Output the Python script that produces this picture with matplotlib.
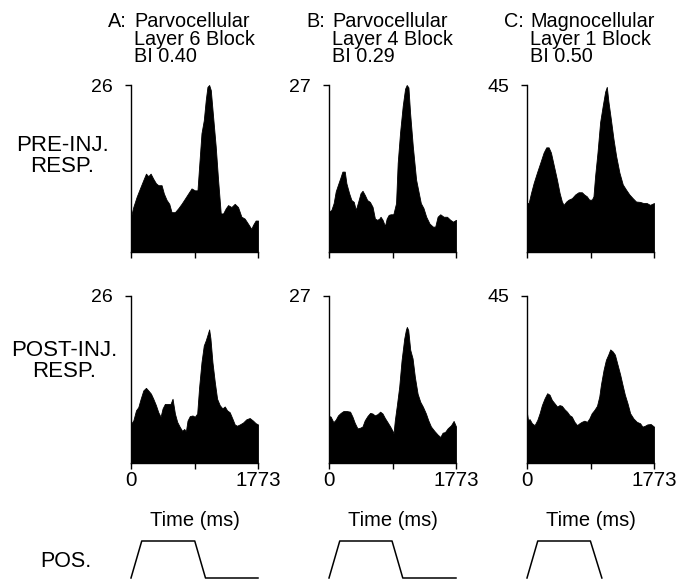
import matplotlib
matplotlib.use('Agg')
import matplotlib.pyplot as plt

plt.rcParams['font.family'] = ['Liberation Sans', 'DejaVu Sans']

# ---------------- data ----------------
col_letters = ['A:', 'B:', 'C:']
col_titles = [['Parvocellular', 'Layer 6 Block', 'BI 0.40'],
              ['Parvocellular', 'Layer 4 Block', 'BI 0.29'],
              ['Magnocellular', 'Layer 1 Block', 'BI 0.50']]
y_max = [26, 27, 45]
t_max = 1773
x_tick_labels = ['0', '', '1773']
time_label = 'Time (ms)'
row_labels = [['PRE-INJ.', 'RESP.'], ['POST-INJ.', 'RESP.']]
pos_label = 'POS.'

# PRE-injection responses (spikes/s vs time ms)
pre_a_t = [0, 32, 79, 125, 172, 209, 241, 274, 311, 348, 381, 427, 459, 497, 534, 566, 613, 659,
           705, 752, 798, 845, 891, 928, 951, 984, 1016, 1044, 1067, 1091, 1114, 1146, 1183, 1216,
           1253, 1286, 1323, 1355, 1402, 1448, 1494, 1541, 1587, 1634, 1680, 1703, 1740, 1773]
pre_a_v = [5.5, 7.0, 8.6, 9.9, 11.2, 12.2, 11.8, 12.2, 11.4, 10.7, 10.4, 10.4, 9.1, 8.1, 7.5, 6.2,
           6.2, 6.8, 7.5, 8.3, 9.1, 9.9, 9.6, 9.6, 13.3, 18.5, 20.5, 23.7, 25.7, 26.0, 25.2, 21.1,
           16.4, 11.2, 6.0, 6.0, 6.8, 7.3, 7.0, 7.5, 7.0, 5.5, 5.2, 4.4, 3.6, 4.2, 4.9, 4.9]

pre_b_t = [0, 33, 65, 94, 126, 159, 187, 220, 243, 281, 313, 346, 374, 407, 440, 468, 501, 533,
           571, 608, 641, 674, 702, 720, 748, 781, 805, 833, 861, 898, 936, 959, 992, 1029, 1062,
           1085, 1109, 1132, 1170, 1216, 1249, 1282, 1319, 1357, 1403, 1450, 1483, 1516, 1553,
           1600, 1647, 1693, 1731, 1773]
pre_b_v = [6.5, 6.8, 7.9, 9.8, 10.9, 12.0, 13.0, 13.0, 11.1, 9.5, 8.4, 8.1, 6.8, 8.1, 9.5, 9.9,
           9.2, 8.4, 8.1, 7.3, 5.4, 5.2, 5.4, 5.7, 5.2, 4.2, 5.4, 6.0, 6.1, 6.1, 7.9, 14.4, 19.3,
           23.6, 26.4, 27.0, 26.6, 22.5, 17.1, 11.7, 9.8, 7.9, 7.1, 5.7, 4.6, 4.1, 4.1, 5.7, 6.1,
           5.7, 5.7, 5.2, 4.9, 5.2]

pre_c_t = [0, 23, 56, 93, 139, 186, 232, 269, 302, 334, 371, 418, 455, 487, 511, 548, 580, 627,
           673, 719, 766, 798, 835, 868, 905, 928, 951, 984, 1021, 1058, 1091, 1114, 1137, 1170,
           1207, 1244, 1290, 1337, 1383, 1429, 1476, 1522, 1578, 1624, 1671, 1717, 1773]
pre_c_v = [13.2, 13.2, 15.9, 18.6, 21.4, 24.1, 26.8, 28.2, 28.2, 26.8, 23.6, 19.5, 15.9, 13.6,
           12.7, 13.6, 14.1, 14.5, 15.5, 16.1, 16.1, 15.5, 15.0, 14.1, 14.1, 15.0, 20.5, 26.8,
           35.0, 39.5, 43.2, 44.5, 40.5, 35.9, 30.5, 25.9, 21.4, 18.2, 16.8, 15.5, 14.5, 13.6,
           13.5, 13.2, 13.2, 12.7, 13.2]

# POST-injection responses
post_a_t = [0, 32, 70, 102, 135, 172, 209, 241, 278, 311, 348, 381, 413, 441, 473, 520, 552, 580,
            613, 645, 682, 715, 743, 766, 789, 821, 859, 891, 924, 951, 984, 1016, 1044, 1072,
            1091, 1109, 1137, 1170, 1202, 1239, 1276, 1309, 1341, 1378, 1416, 1448, 1480, 1518,
            1564, 1610, 1657, 1703, 1740, 1773]
post_a_v = [6.1, 6.6, 8.2, 8.7, 10.0, 11.3, 11.7, 11.3, 10.8, 10.0, 9.0, 7.9, 7.2, 8.5, 9.2, 9.2,
            9.2, 10.0, 7.7, 6.4, 5.6, 5.0, 5.3, 4.9, 6.6, 7.3, 7.4, 7.2, 7.7, 11.8, 15.7, 18.3,
            19.1, 20.1, 20.8, 19.4, 15.7, 12.6, 10.0, 9.0, 8.5, 8.8, 8.2, 7.9, 6.9, 6.0, 5.8, 6.0,
            6.3, 6.8, 7.0, 6.6, 6.2, 6.0]

post_b_t = [0, 23, 61, 93, 126, 163, 201, 247, 294, 327, 359, 397, 434, 467, 499, 537, 574, 607,
            639, 677, 714, 747, 779, 817, 854, 882, 901, 919, 947, 980, 1013, 1050, 1073, 1087,
            1106, 1134, 1167, 1199, 1237, 1274, 1311, 1353, 1386, 1423, 1470, 1516, 1554, 1586,
            1619, 1656, 1703, 1740, 1773]
post_b_v = [7.6, 7.5, 6.6, 7.0, 7.7, 8.1, 8.4, 8.4, 8.3, 7.5, 6.5, 5.6, 5.7, 5.9, 6.9, 7.6, 8.1,
            8.0, 7.7, 7.9, 8.3, 8.0, 7.3, 6.6, 5.9, 5.3, 4.8, 6.9, 9.3, 12.3, 16.6, 20.1, 21.5,
            22.0, 21.5, 18.3, 16.9, 13.9, 11.2, 9.9, 9.1, 8.0, 6.9, 5.9, 5.2, 4.6, 4.2, 4.9, 5.0,
            5.6, 6.1, 6.8, 5.9]

post_c_t = [0, 14, 37, 69, 106, 144, 176, 208, 245, 282, 315, 347, 384, 421, 454, 486, 523, 560,
            593, 625, 662, 699, 731, 764, 801, 838, 870, 903, 940, 977, 1009, 1032, 1069, 1102,
            1134, 1162, 1194, 1227, 1264, 1301, 1333, 1366, 1403, 1440, 1486, 1532, 1579, 1611,
            1643, 1680, 1727, 1773]
post_c_v = [13.4, 11.6, 11.8, 10.7, 10.2, 11.6, 13.4, 15.6, 17.4, 18.8, 18.4, 17.0, 16.1, 15.2,
            15.6, 15.4, 14.5, 13.8, 12.9, 12.5, 11.1, 10.2, 10.7, 11.1, 11.4, 11.1, 12.0, 13.4,
            14.3, 15.4, 17.9, 21.1, 25.1, 27.8, 29.2, 30.6, 30.1, 29.2, 26.5, 23.8, 21.1, 18.4,
            16.1, 13.4, 12.0, 11.1, 10.7, 9.8, 10.0, 10.4, 10.5, 9.8]

# Eye/stimulus position traces (normalised)
pos_a_t = [0, 150, 890, 1040, 1773]
pos_a_v = [0, 1, 1, 0, 0]
pos_b_t = [0, 150, 880, 1030, 1773]
pos_b_v = [0, 1, 1, 0, 0]
pos_c_t = [0, 150, 885, 1045]
pos_c_v = [0, 1, 1, 0]

pre_series = [(pre_a_t, pre_a_v), (pre_b_t, pre_b_v), (pre_c_t, pre_c_v)]
post_series = [(post_a_t, post_a_v), (post_b_t, post_b_v), (post_c_t, post_c_v)]
pos_series = [(pos_a_t, pos_a_v), (pos_b_t, pos_b_v), (pos_c_t, pos_c_v)]

# ---------------- layout ----------------
W, H = 690, 580
fig = plt.figure(figsize=(W / 100, H / 100), dpi=100)
fig.patch.set_facecolor('white')


def fx(px):
    return px / W


def fy(py):
    return 1 - py / H


col_left = [131, 329, 527]
ax_w = 127
ax_h = 167
row_bottom = [252, 463]
FS = 14.3

for r, series in enumerate([pre_series, post_series]):
    for c, (t, v) in enumerate(series):
        ax = fig.add_axes([fx(col_left[c]), fy(row_bottom[r]), ax_w / W, ax_h / H])
        ax.fill_between(t, v, 0, color='black', lw=0.6, edgecolor='black')
        ax.set_xlim(0, t_max)
        ax.set_ylim(0, y_max[c])
        for s in ['top', 'right']:
            ax.spines[s].set_visible(False)
        for s in ['left', 'bottom']:
            ax.spines[s].set_linewidth(1.0)
        ax.set_yticks([y_max[c]])
        ax.set_yticklabels([str(y_max[c])])
        ax.set_xticks([0, t_max / 2, t_max])
        if r == 1:
            ax.set_xticklabels(x_tick_labels)
        else:
            ax.set_xticklabels(['', '', ''])
        ax.tick_params(axis='y', length=4, width=1, pad=9, labelsize=14)
        ax.tick_params(axis='x', length=4, width=1, pad=2, labelsize=14.8)

# position traces
for c, (t, v) in enumerate(pos_series):
    ax = fig.add_axes([fx(col_left[c]), fy(578), ax_w / W, 37 / H])
    ax.plot(t, v, color='black', lw=1.1, clip_on=False)
    ax.set_xlim(0, t_max)
    ax.set_ylim(0, 1)
    ax.axis('off')

# column titles
for c in range(3):
    fig.text(fx(col_left[c] - 23), fy(27), col_letters[c], fontsize=FS, va='baseline', ha='left')
    for k, line in enumerate(col_titles[c]):
        fig.text(fx(col_left[c] + 3), fy(27 + 17.7 * k), line, fontsize=FS,
                 va='baseline', ha='left')
    fig.text(fx(col_left[c] + ax_w / 2), fy(521), time_label, fontsize=14.5,
             va='center', ha='center')

# row labels (each a single two-line text)
fig.text(fx(62), fy(156), '\n'.join(row_labels[0]), fontsize=16, ha='center', va='center',
         multialignment='center', linespacing=0.95)
fig.text(fx(64), fy(361), '\n'.join(row_labels[1]), fontsize=16, ha='center', va='center',
         multialignment='center', linespacing=0.95)
fig.text(fx(40), fy(567), pos_label, fontsize=15.5, ha='left', va='baseline')

fig.savefig('out.png', dpi=100, facecolor='white')
